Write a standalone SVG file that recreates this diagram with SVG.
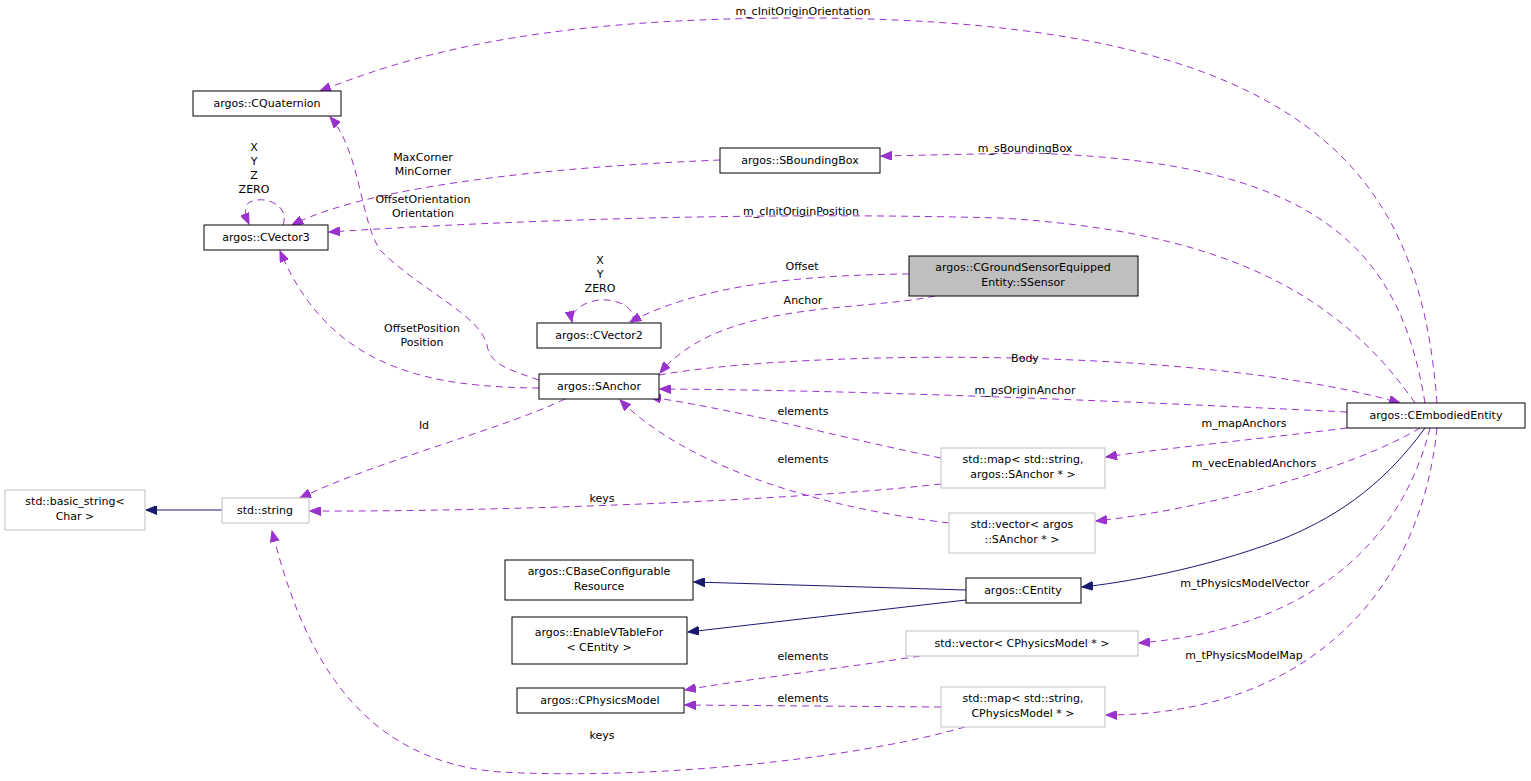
<svg xmlns="http://www.w3.org/2000/svg" width="1531" height="781" viewBox="0 0 1531 781">
<style>
text{font-family:"DejaVu Sans",sans-serif;font-size:11px;fill:#000;text-anchor:middle}
.n rect{fill:#fff;stroke:#000;stroke-width:1}
.g rect{fill:#fff;stroke:#bfbfbf;stroke-width:1}
.s rect{fill:#bfbfbf;stroke:#000;stroke-width:1}
.d{fill:none;stroke:#9a32cd;stroke-dasharray:7,5;stroke-width:1;marker-end:url(#mp)}
.i{fill:none;stroke:#191970;stroke-width:1;marker-end:url(#mb)}
</style>
<defs>
<marker id="mp" markerUnits="userSpaceOnUse" markerWidth="12" markerHeight="9" refX="11" refY="4.5" orient="auto"><path d="M0,0 L11,4.5 L0,9 z" fill="#9a32cd" stroke="#9a32cd" stroke-dasharray="none"/></marker>
<marker id="mb" markerUnits="userSpaceOnUse" markerWidth="12" markerHeight="9" refX="11" refY="4.5" orient="auto"><path d="M0,0 L11,4.5 L0,9 z" fill="#191970" stroke="#191970" stroke-dasharray="none"/></marker>
</defs>
<rect width="1531" height="781" fill="#fff"/>
<g id="connectors">
<path class="d" d="M1437,403 C1420,180 1320,18 800,18 C520,18 400,60 320,91"/>
<text x="803" y="15">m_cInitOriginOrientation</text>
<path class="d" d="M1425,403 C1400,250 1320,160 1025,153 L881,156"/>
<text x="1025" y="152">m_sBoundingBox</text>
<path class="d" d="M1415,403 C1330,280 1200,230 1000,218 C700,210 420,226 329,232"/>
<text x="801" y="215">m_cInitOriginPosition</text>
<path class="d" d="M720,160 C600,165 380,180 292,225"/>
<text x="423" y="161">MaxCorner</text><text x="423" y="175">MinCorner</text>
<path class="d" d="M283,225 C290,205 265,195 250,202 C243,206 245,215 249,224"/>
<text x="254" y="151">X</text><text x="254" y="165">Y</text><text x="254" y="179">Z</text><text x="254" y="193">ZERO</text>
<path class="d" d="M539,380 C510,370 490,365 487,345 C480,315 420,290 380,250 C360,220 360,150 330,117"/>
<text x="423" y="203">OffsetOrientation</text><text x="423" y="217">Orientation</text>
<path class="d" d="M539,388 C430,387 330,370 280,251"/>
<text x="422" y="332">OffsetPosition</text><text x="422" y="346">Position</text>
<path class="d" d="M632,323 C638,310 620,298 598,300 C580,303 570,313 572,322"/>
<text x="600" y="264">X</text><text x="600" y="278">Y</text><text x="600" y="292">ZERO</text>
<path class="d" d="M909,274 C800,275 700,285 630,322"/>
<text x="802" y="270">Offset</text>
<path class="d" d="M935,296 C860,312 720,300 660,373"/>
<text x="803" y="304">Anchor</text>
<path class="d" d="M659,375 C800,350 1200,345 1400,403"/>
<text x="1025" y="362">Body</text>
<path class="d" d="M1347,412 C1100,400 850,390 660,389"/>
<text x="1025" y="394">m_psOriginAnchor</text>
<path class="d" d="M941,458 C850,440 750,412 650,397"/>
<text x="803" y="415">elements</text>
<path class="d" d="M949,523 C800,505 680,460 620,400"/>
<text x="803" y="463">elements</text>
<path class="d" d="M565,399 C500,430 380,460 300,498"/>
<text x="424" y="429">Id</text>
<path class="d" d="M941,484 C800,500 500,512 310,511"/>
<text x="602" y="502">keys</text>
<path class="d" d="M1347,428 C1250,440 1150,450 1106,457"/>
<text x="1244" y="427">m_mapAnchors</text>
<path class="d" d="M1420,428 C1350,470 1200,510 1096,521"/>
<text x="1254" y="467">m_vecEnabledAnchors</text>
<path class="i" d="M222,510 L146,510"/>
<path class="i" d="M1425,428 C1380,490 1330,520 1280,540 C1200,570 1120,583 1082,587"/>
<path class="i" d="M966,590 L694,582"/>
<path class="i" d="M966,600 L688,632"/>
<path class="d" d="M1430,428 C1400,550 1300,630 1139,643"/>
<text x="1245" y="587">m_tPhysicsModelVector</text>
<path class="d" d="M1437,428 C1420,600 1300,715 1106,715"/>
<text x="1244" y="659">m_tPhysicsModelMap</text>
<path class="d" d="M920,656 C830,670 740,680 685,690"/>
<text x="803" y="660">elements</text>
<path class="d" d="M941,707 L685,705"/>
<text x="803" y="702">elements</text>
<path class="d" d="M965,727 C850,760 650,780 500,772 C350,760 300,640 272,531"/>
<text x="602" y="739">keys</text>
</g>
<g id="CQuaternion" class="n"><rect x="193" y="91" width="148" height="25"/><text x="267" y="107">argos::CQuaternion</text></g>
<g id="CVector3" class="n"><rect x="204" y="225" width="124" height="25"/><text x="266" y="241">argos::CVector3</text></g>
<g id="SBoundingBox" class="n"><rect x="720" y="148" width="160" height="25"/><text x="800" y="164">argos::SBoundingBox</text></g>
<g id="CVector2" class="n"><rect x="537" y="323" width="124" height="25"/><text x="599" y="339">argos::CVector2</text></g>
<g id="SSensor" class="s"><rect x="909" y="256" width="229" height="40"/><text x="1023" y="271">argos::CGroundSensorEquipped</text><text x="1023" y="286">Entity::SSensor</text></g>
<g id="SAnchor" class="n"><rect x="539" y="374" width="120" height="25"/><text x="599" y="390">argos::SAnchor</text></g>
<g id="CEmbodiedEntity" class="n"><rect x="1347" y="403" width="178" height="25"/><text x="1436" y="419">argos::CEmbodiedEntity</text></g>
<g id="basic_string" class="g"><rect x="5" y="490" width="140" height="40"/><text x="75" y="505">std::basic_string&lt;</text><text x="75" y="520">Char &gt;</text></g>
<g id="string" class="g"><rect x="222" y="498" width="87" height="25"/><text x="265" y="514">std::string</text></g>
<g id="mapSAnchor" class="g"><rect x="941" y="448" width="164" height="40"/><text x="1023" y="463">std::map&lt; std::string,</text><text x="1023" y="478">argos::SAnchor * &gt;</text></g>
<g id="vectorSAnchor" class="g"><rect x="949" y="513" width="146" height="40"/><text x="1022" y="528">std::vector&lt; argos</text><text x="1022" y="543">::SAnchor * &gt;</text></g>
<g id="CBaseConfigurableResource" class="n"><rect x="505" y="560" width="188" height="40"/><text x="599" y="575">argos::CBaseConfigurable</text><text x="599" y="590">Resource</text></g>
<g id="CEntity" class="n"><rect x="966" y="578" width="115" height="25"/><text x="1023" y="594">argos::CEntity</text></g>
<g id="EnableVTableFor" class="n"><rect x="512" y="617" width="175" height="47"/><text x="599" y="636">argos::EnableVTableFor</text><text x="599" y="651">&lt; CEntity &gt;</text></g>
<g id="vectorCPhysicsModel" class="g"><rect x="906" y="631" width="232" height="25"/><text x="1022" y="647">std::vector&lt; CPhysicsModel * &gt;</text></g>
<g id="CPhysicsModel" class="n"><rect x="517" y="688" width="167" height="25"/><text x="600" y="704">argos::CPhysicsModel</text></g>
<g id="mapCPhysicsModel" class="g"><rect x="941" y="687" width="164" height="40"/><text x="1023" y="702">std::map&lt; std::string,</text><text x="1023" y="717">CPhysicsModel * &gt;</text></g>
</svg>
